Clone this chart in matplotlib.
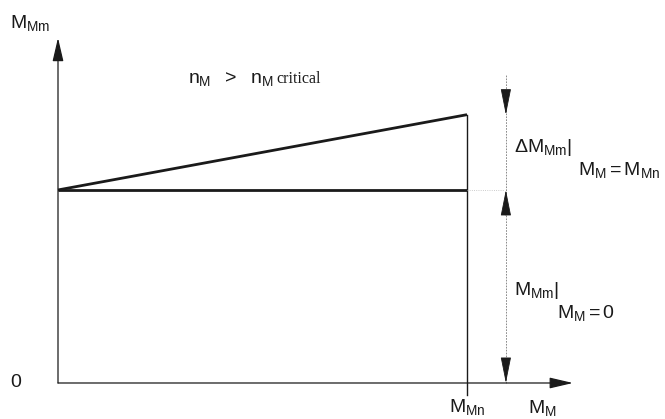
import matplotlib
matplotlib.use("Agg")
import matplotlib.pyplot as plt

plt.rcParams["mathtext.fontset"] = "custom"
plt.rcParams["mathtext.rm"] = "Liberation Sans"
plt.rcParams["mathtext.it"] = "Liberation Sans"
plt.rcParams["font.family"] = ["Liberation Sans", "DejaVu Sans"]

# values of the sketch (M_M along x, M_Mm along y), M_Mn taken as 1
M_Mn = 1.0
M_Mm_at_zero = 1.0
delta_M_Mm = 0.39
x_line = [0.0, M_Mn]
y_rising = [M_Mm_at_zero, M_Mm_at_zero + delta_M_Mm]
y_flat = [M_Mm_at_zero, M_Mm_at_zero]

ink = "#1a1a1a"
fig = plt.figure(figsize=(6.65, 4.19), dpi=100)
ax = fig.add_axes([0, 0, 1, 1])
ax.set_xlim(-0.1418, 1.484)
ax.set_ylim(-0.1865, 1.984)
ax.axis("off")

# axes with arrow heads
arrow = dict(arrowstyle="-|>,head_length=1.2,head_width=0.28", color=ink,
             lw=0.9, mutation_scale=12, shrinkA=0, shrinkB=0)
ax.annotate("", xy=(0, 1.788), xytext=(0, 0), arrowprops=arrow)
ax.annotate("", xy=(1.259, 0), xytext=(0, 0), arrowprops=arrow)

# the two characteristic lines
ax.plot(x_line, y_rising, color=ink, lw=2.0, solid_capstyle="butt")
ax.plot(x_line, y_flat, color=ink, lw=2.0, solid_capstyle="butt")
ax.plot([M_Mn, M_Mn], [-0.062, y_rising[1]], color=ink, lw=1.0)
ax.plot([M_Mn, 1.09], y_flat, color="#bbbbbb", lw=0.6, ls=":")

# dimension line with arrows
x_dim = 1.095
ax.plot([x_dim, x_dim], [0, 1.596], color="#777777", lw=0.6, ls=(0, (2, 1.5)))
dim = dict(arrowstyle="-|>,head_length=1.5,head_width=0.3", color=ink,
           lw=0.6, mutation_scale=11, shrinkA=0, shrinkB=0)
ax.annotate("", xy=(x_dim, y_rising[1]), xytext=(x_dim, y_rising[1] + 0.12), arrowprops=dim)
ax.annotate("", xy=(x_dim, M_Mm_at_zero), xytext=(x_dim, M_Mm_at_zero - 0.13), arrowprops=dim)
ax.annotate("", xy=(x_dim, 0), xytext=(x_dim, 0.11), arrowprops=dim)

fs = 14
ax.text(-0.117, 1.839, r"$M_{Mm}$", fontsize=fs, color=ink, va="baseline")
ax.text(-0.103, 0, r"$0$", fontsize=fs, color=ink, ha="center", va="center")
ax.text(M_Mn, -0.15, r"$M_{Mn}$", fontsize=fs, color=ink, ha="center", va="baseline")
ax.text(1.149, -0.155, r"$M_M$", fontsize=fs, color=ink, va="baseline")
ax.text(0.318, 1.554, r"$n_M\ \ >\ \ n_M$", fontsize=fs, color=ink, va="baseline")
ax.text(0.535, 1.554, "critical", fontsize=11.5, color=ink, va="baseline",
        family="Liberation Serif")
ax.text(1.115, 1.197, r"$\Delta M_{Mm}|$", fontsize=fs, color=ink, va="baseline")
ax.text(1.271, 1.078, r"$M_M = M_{Mn}$", fontsize=fs, color=ink, va="baseline")
ax.text(1.115, 0.456, r"$M_{Mm}|$", fontsize=fs, color=ink, va="baseline")
ax.text(1.220, 0.337, r"$M_M = 0$", fontsize=fs, color=ink, va="baseline")

fig.savefig("out.png", dpi=100)
